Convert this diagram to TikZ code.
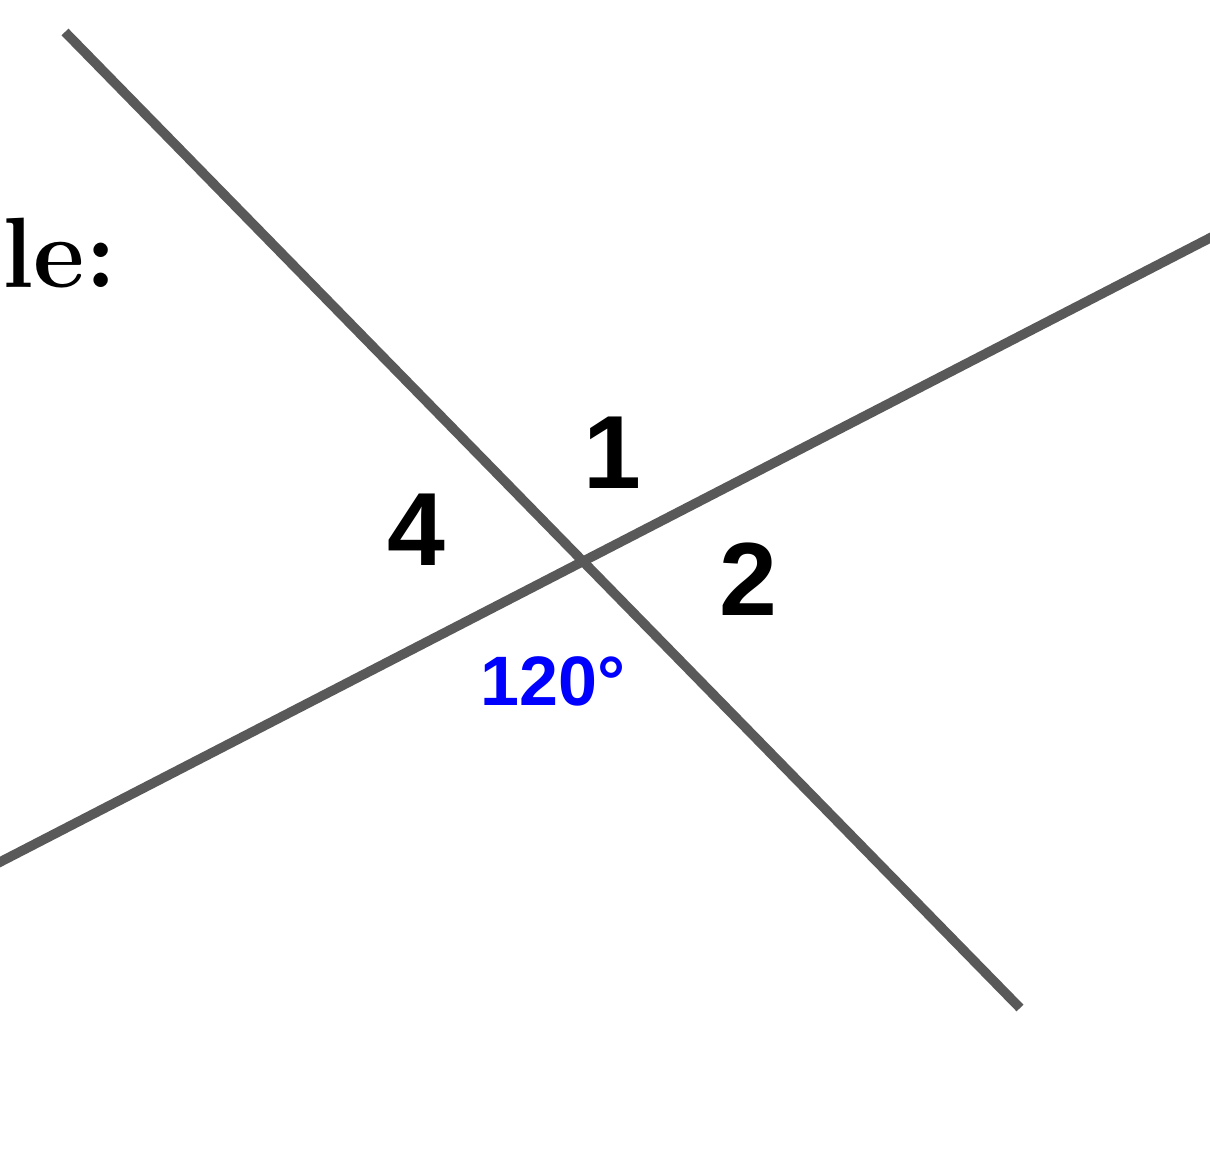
\documentclass[tikz,border=0pt]{standalone}
\usepackage{fontspec}
\newfontfamily\arialfont{Liberation Sans}
\begin{document}
\begin{tikzpicture}[x=0.5pt,y=-0.5pt,
  lineseg/.style={draw=linegray,line width=4.8pt},
  numlab/.style={font=\arialfont\bfseries\fontsize{52}{52}\selectfont,inner sep=0pt,anchor=base},
  anglab/.style={font=\arialfont\bfseries\fontsize{35}{35}\selectfont,inner sep=0pt,anchor=base,text=angblue}]
\definecolor{linegray}{HTML}{595959}
\definecolor{angblue}{HTML}{0000FF}
\useasboundingbox (0,0) rectangle (1210,1166);
\clip (0,0) rectangle (1210,1166);
\fill[white] (0,0) rectangle (1210,1166);
\coordinate (a1) at (65,32);
\coordinate (a2) at (1020,1008);
\coordinate (b1) at (-10,867.2);
\coordinate (b2) at (1220,232.8);
\draw[lineseg] (a1) -- (a2);
\draw[lineseg] (b1) -- (b2);
\node[numlab] (n1) at (612,488) {1};
\node[numlab] (n4) at (416,565) {4};
\node[numlab] (n2) at (748,615) {2};
\node[anglab] (ang) at (553,705) {120°};
\node[font=\bfseries\fontsize{50}{50}\selectfont,inner sep=0pt,anchor=base west] (title) at (2,287) {le:};
\end{tikzpicture}
\end{document}
